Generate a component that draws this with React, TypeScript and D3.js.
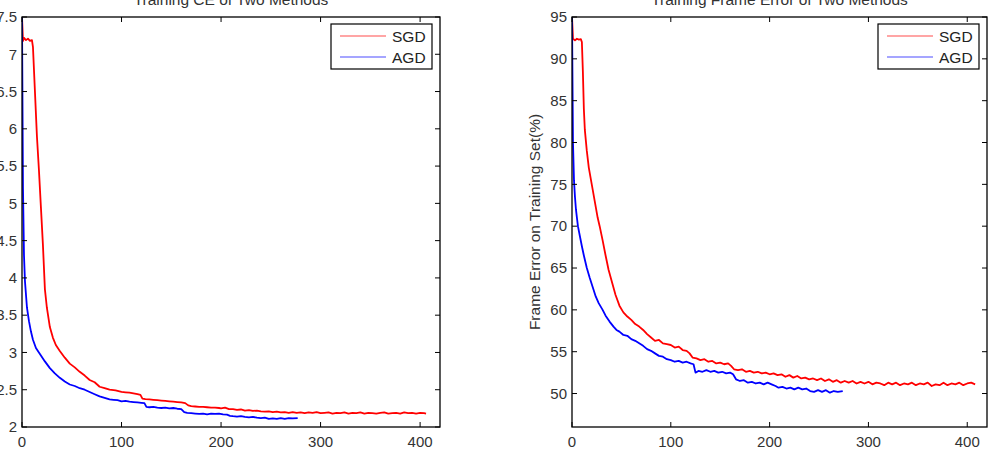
import React from "react";
import * as d3 from "d3";

// ---------- data ----------
const xTicks = [0, 100, 200, 300, 400];
const ceTicks = [2, 2.5, 3, 3.5, 4, 4.5, 5, 5.5, 6, 6.5, 7, 7.5];
const feTicks = [50, 55, 60, 65, 70, 75, 80, 85, 90, 95];
const seriesNames = ["SGD", "AGD"];

const ceSgdEpochs = [0, 1, 2, 4, 6, 8, 10, 11, 13, 15, 17, 19, 21, 23, 25, 28, 31, 34, 38, 43, 48, 53, 58, 63, 68, 73, 78, 83, 88, 94,
  100, 104, 108, 112, 116, 119, 121, 124, 128, 132, 136, 140, 144, 148, 152, 156, 160, 164, 167, 170, 174, 178, 182, 186, 190, 194, 198,
  200, 204, 208, 212, 216, 220, 224, 228, 232, 236, 240, 244, 248, 252, 256, 260, 264, 268, 272, 276, 280, 284, 288, 292, 296,
  300, 304, 308, 312, 316, 320, 324, 328, 332, 336, 340, 344, 348, 352, 356, 360, 364, 368, 372, 376, 380, 384, 388, 392, 396, 400, 404, 406];
const ceSgd = [7.5, 7.18, 7.22, 7.19, 7.21, 7.18, 7.19, 7.1, 6.5, 5.9, 5.45, 4.95, 4.45, 3.85, 3.6, 3.34, 3.2, 3.1, 3.02, 2.93, 2.85, 2.8, 2.74, 2.69, 2.63, 2.6, 2.54, 2.52, 2.5, 2.49,
  2.47, 2.465, 2.46, 2.45, 2.44, 2.43, 2.38, 2.375, 2.37, 2.365, 2.36, 2.355, 2.35, 2.345, 2.34, 2.335, 2.33, 2.32, 2.29, 2.28, 2.275, 2.27, 2.27, 2.265, 2.26, 2.26, 2.255,
  2.25, 2.26, 2.24, 2.24, 2.23, 2.235, 2.22, 2.225, 2.215, 2.22, 2.21, 2.205, 2.21, 2.2, 2.205, 2.195, 2.2, 2.19, 2.2, 2.19, 2.195, 2.185, 2.195, 2.19, 2.2,
  2.185, 2.19, 2.195, 2.18, 2.19, 2.185, 2.195, 2.18, 2.19, 2.185, 2.195, 2.18, 2.19, 2.185, 2.18, 2.19, 2.195, 2.18, 2.185, 2.19, 2.18, 2.195, 2.185, 2.19, 2.18, 2.19, 2.185, 2.18];

const ceAgdEpochs = [0, 1, 2, 3, 5, 7, 9, 11, 14, 18, 23, 28, 33, 38, 43, 48, 53, 58, 63, 68, 73, 78, 83, 88, 92, 96, 100, 104, 108, 112, 116, 120, 123,
  125, 128, 132, 136, 140, 144, 148, 152, 156, 160, 163, 166, 170, 174, 178, 182, 186, 190, 194, 198, 202, 206, 209, 212, 216, 220, 224, 228, 232, 236,
  240, 244, 248, 252, 256, 260, 264, 268, 272, 277];
const ceAgd = [7.5, 5.2, 4.3, 3.95, 3.6, 3.42, 3.28, 3.17, 3.06, 2.98, 2.88, 2.79, 2.72, 2.66, 2.61, 2.57, 2.55, 2.52, 2.5, 2.47, 2.44, 2.41, 2.39, 2.37, 2.365, 2.36, 2.345, 2.35, 2.34, 2.335, 2.33, 2.325, 2.32,
  2.27, 2.265, 2.27, 2.26, 2.255, 2.26, 2.25, 2.255, 2.245, 2.24, 2.2, 2.19, 2.185, 2.18, 2.175, 2.18, 2.17, 2.18, 2.175, 2.18, 2.17, 2.165, 2.15, 2.145, 2.14, 2.145, 2.135, 2.13, 2.135, 2.125,
  2.12, 2.125, 2.11, 2.115, 2.11, 2.12, 2.11, 2.12, 2.115, 2.12];

const feSgdEpochs = [0, 1, 3, 5, 7, 9, 10, 11, 12, 13, 15, 17, 20, 23, 26, 28, 31, 34, 37, 40, 44, 48, 52, 56, 60, 64, 68, 72, 76, 80, 84, 88, 92, 96,
  100, 104, 108, 112, 116, 119, 122, 126, 130, 134, 138, 142, 146, 150, 154, 158, 161, 164, 168, 172, 176, 180, 184, 188, 192, 196,
  200, 204, 208, 212, 216, 220, 224, 228, 232, 236, 240, 244, 248, 252, 256, 260, 264, 268, 272, 276, 280, 284, 288, 292, 296,
  300, 304, 308, 312, 316, 320, 324, 328, 332, 336, 340, 344, 348, 352, 356, 360, 364, 368, 372, 376, 380, 384, 388, 392, 396, 400, 404, 408];
const feSgd = [95, 92.4, 92.2, 92.4, 92.3, 92.35, 92.0, 88.5, 84, 81.5, 79, 77, 75, 73, 71, 70, 68.3, 66.5, 64.8, 63.5, 61.8, 60.5, 59.7, 59.2, 58.8, 58.3, 58.0, 57.6, 57.1, 56.7, 56.3, 56.4, 56.0, 55.9,
  55.8, 55.5, 55.6, 55.2, 55.1, 54.8, 54.3, 54.2, 54.0, 54.1, 53.8, 53.9, 53.6, 53.7, 53.5, 53.6, 53.3, 52.9, 52.8, 52.9, 52.6, 52.7, 52.5, 52.6, 52.4, 52.5,
  52.3, 52.4, 52.2, 52.3, 52.0, 52.2, 51.9, 52.1, 51.8, 51.9, 51.7, 51.8, 51.6, 51.8, 51.5, 51.7, 51.4, 51.6, 51.3, 51.5, 51.3, 51.5, 51.2, 51.4, 51.2,
  51.4, 51.1, 51.3, 51.2, 51.0, 51.3, 51.1, 51.3, 51.0, 51.2, 51.1, 51.3, 51.0, 51.2, 51.1, 51.3, 50.9, 51.1, 51.0, 51.3, 51.0, 51.2, 51.1, 51.3, 51.0, 51.2, 51.3, 51.1];

const feAgdEpochs = [0, 1, 2, 3, 4, 5, 6, 8, 10, 12, 15, 18, 21, 24, 27, 31, 34, 38, 42, 45, 48, 52, 56, 60, 64, 68, 72, 76, 80, 84, 88, 92, 96,
  100, 104, 108, 112, 116, 120, 123, 125, 128, 132, 136, 140, 144, 148, 152, 156, 160, 163, 166, 170, 174, 178, 182, 186, 190, 194, 198,
  202, 206, 209, 213, 217, 221, 225, 229, 233, 237, 241, 245, 249, 253, 257, 261, 265, 269, 274];
const feAgd = [95, 80, 75.5, 73.5, 72, 71, 70, 68.8, 67.6, 66.5, 65, 63.8, 62.7, 61.6, 60.8, 60, 59.3, 58.6, 58.0, 57.6, 57.4, 57.0, 56.9, 56.5, 56.3, 56.0, 55.7, 55.3, 55.1, 54.8, 54.5, 54.4, 54.1,
  54.0, 53.8, 53.9, 53.7, 53.8, 53.6, 53.5, 52.5, 52.7, 52.6, 52.8, 52.6, 52.7, 52.5, 52.6, 52.4, 52.5, 52.3, 51.7, 51.5, 51.6, 51.3, 51.4, 51.2, 51.3, 51.1, 51.3,
  51.1, 50.9, 50.7, 50.8, 50.6, 50.7, 50.5, 50.7, 50.5, 50.6, 50.3, 50.2, 50.4, 50.2, 50.4, 50.1, 50.3, 50.2, 50.3];

// ---------- drawing ----------
const FONT = "'Liberation Sans', Arial, Helvetica, sans-serif";
const COLORS = ["#ff0000", "#0000ff"];

type Series = { epochs: number[]; values: number[] };

function Panel(props: {
  left: number; right: number; top: number; bottom: number;
  yDomain: [number, number]; yTicks: number[];
  title: string; ylabel?: string; series: Series[];
}) {
  const { left, right, top, bottom, yDomain, yTicks, title, ylabel, series } = props;
  const x = d3.scaleLinear().domain([0, 420]).range([left, right]);
  const y = d3.scaleLinear().domain(yDomain).range([bottom, top]);
  const tl = 5;
  const legRight = right - 8;
  const legW = 101;
  const legLeft = legRight - legW;
  const legTop = top + 7;
  const legH = 45;
  return (
    <g fontFamily={FONT}>
      <defs>
        <clipPath id={`clip-${left}`}>
          <rect x={left} y={top} width={right - left} height={bottom - top} />
        </clipPath>
      </defs>
      <g clipPath={`url(#clip-${left})`}>
        {series.map((s, i) => {
          const pts: [number, number][] = s.epochs.map((e, j) => [e, s.values[j]]);
          const line = d3.line<[number, number]>().x((d) => x(d[0])).y((d) => y(d[1]));
          return <path key={i} d={line(pts) || ""} fill="none" stroke={COLORS[i]} strokeWidth={1.8} strokeLinejoin="round" />;
        })}
      </g>
      {/* box */}
      <rect x={left} y={top} width={right - left} height={bottom - top} fill="none" stroke="#000" strokeWidth={1.3} />
      {xTicks.map((t) => (
        <g key={"x" + t}>
          <line x1={x(t)} x2={x(t)} y1={bottom} y2={bottom - tl} stroke="#000" strokeWidth={1} />
          <line x1={x(t)} x2={x(t)} y1={top} y2={top + tl} stroke="#000" strokeWidth={1} />
          <text x={x(t)} y={bottom + 20} fontSize={15} textAnchor="middle" fill="#333">{t}</text>
        </g>
      ))}
      {yTicks.map((t) => (
        <g key={"y" + t}>
          <line x1={left} x2={left + tl} y1={y(t)} y2={y(t)} stroke="#000" strokeWidth={1} />
          <line x1={right} x2={right - tl} y1={y(t)} y2={y(t)} stroke="#000" strokeWidth={1} />
          <text x={left - 5} y={y(t)} dy="0.35em" fontSize={15} textAnchor="end" fill="#333">{t}</text>
        </g>
      ))}
      <text x={(left + right) / 2} y={5} fontSize={15.5} textAnchor="middle" fill="#333">{title}</text>
      {ylabel && (
        <text transform={`translate(${left - 32},${(top + bottom) / 2}) rotate(-90)`} fontSize={15.5} textAnchor="middle" fill="#333">{ylabel}</text>
      )}
      {/* legend */}
      <rect x={legLeft} y={legTop} width={legW} height={legH} fill="#fff" stroke="#000" strokeWidth={1.2} />
      {seriesNames.map((n, i) => {
        const ly = legTop + 12 + i * 21;
        return (
          <g key={n}>
            <line x1={legLeft + 9} x2={legLeft + 55} y1={ly} y2={ly} stroke={COLORS[i]} strokeWidth={1.2} strokeOpacity={0.7} />
            <text x={legLeft + 61} y={ly} dy="0.36em" fontSize={15.5} fill="#222">{n}</text>
          </g>
        );
      })}
    </g>
  );
}

export default function App() {
  return (
    <svg width={998} height={452} style={{ position: "absolute", left: 0, top: 0, background: "#fff" }}>
      <rect width={998} height={452} fill="#fff" />
      <Panel left={22} right={440} top={17} bottom={427} yDomain={[2, 7.5]} yTicks={ceTicks}
        title="Training CE of Two Methods"
        series={[{ epochs: ceSgdEpochs, values: ceSgd }, { epochs: ceAgdEpochs, values: ceAgd }]} />
      <Panel left={572} right={987} top={17} bottom={427} yDomain={[46, 95]} yTicks={feTicks}
        title="Training Frame Error of Two Methods" ylabel="Frame Error on Training Set(%)"
        series={[{ epochs: feSgdEpochs, values: feSgd }, { epochs: feAgdEpochs, values: feAgd }]} />
    </svg>
  );
}
